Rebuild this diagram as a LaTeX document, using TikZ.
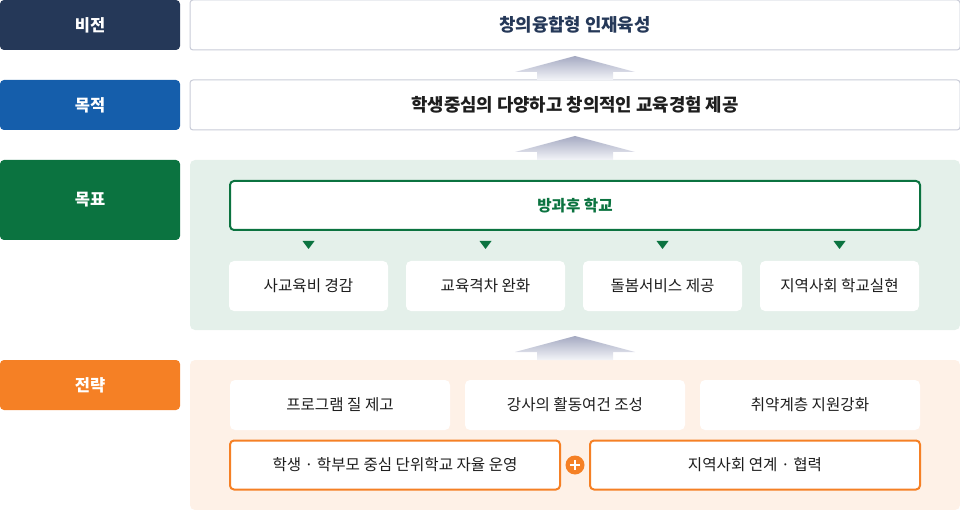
\documentclass[tikz,border=0pt]{standalone}
\usepackage{fontspec}
\setmainfont{Noto Sans CJK KR}
\usetikzlibrary{positioning,calc}
\definecolor{navy}{HTML}{253858}
\definecolor{blu}{HTML}{155EAB}
\definecolor{grn}{HTML}{0B7340}
\definecolor{org}{HTML}{F58025}
\definecolor{gline}{HTML}{C9CCD8}
\definecolor{gbg}{HTML}{E4F0EA}
\definecolor{obg}{HTML}{FEF1E7}
\definecolor{txt}{HTML}{1E1E1E}
\begin{document}
\begin{tikzpicture}
    [x=1pt,y=-1pt,font=\fontsize{15.6}{18}\selectfont,text=txt,
     lbl/.style={rectangle,rounded corners=4pt,minimum width=180pt,minimum height=50pt,inner sep=0pt,outer sep=0pt,text=white,font=\fontsize{16.5}{19}\selectfont\bfseries},
     box/.style={rectangle,rounded corners=3pt,draw=gline,line width=1pt,fill=white,minimum width=770pt,minimum height=50pt,inner sep=0pt,outer sep=0pt,font=\fontsize{17.8}{20}\selectfont\bfseries},
     bg/.style={rectangle,rounded corners=5pt,minimum width=770pt,inner sep=0pt,outer sep=0pt},
     wbox/.style={rectangle,rounded corners=5pt,fill=white,minimum height=50pt,inner sep=0pt,outer sep=0pt},
     obox/.style={rectangle,rounded corners=4pt,draw=org,line width=2pt,fill=white,minimum width=330pt,minimum height=49pt,inner sep=0pt,outer sep=0pt},
     upshade/.style={top color={rgb,255:red,165;green,170;blue,194},bottom color={rgb,255:red,243;green,244;blue,248}}]
    \useasboundingbox (0,0) rectangle (960,510);
    \node[lbl,fill=navy] (vis) at (90,25) {비전};
    \node[box,text=navy] (visbox) [right=10pt of vis] {창의융합형 인재육성};
    \node[box] (objbox) [below=30pt of visbox] {학생중심의 다양하고 창의적인 교육경험 제공};
    \node[lbl,fill=blu] (obj) [left=10pt of objbox] {목적};
    \node[bg,fill=gbg,minimum height=170pt] (goalbg) [below=30pt of objbox] {};
    \node[lbl,fill=grn,minimum height=80pt] (goal) [left=10pt of goalbg.north west,anchor=north east] {목표};
    \node[rectangle,rounded corners=4pt,draw=grn,line width=2pt,fill=white,minimum width=690pt,minimum height=49pt,inner sep=0pt,text=grn,font=\fontsize{15.6}{18}\selectfont\bfseries]
        (school) [below=20pt of goalbg.north] {방과후 학교};
    \node[wbox,minimum width=159pt] (g1) [below=30pt of school.south west,anchor=north west] {사교육비 경감};
    \node[wbox,minimum width=159pt] (g2) [right=18pt of g1] {교육격차 완화};
    \node[wbox,minimum width=159pt] (g3) [right=18pt of g2] {돌봄서비스 제공};
    \node[wbox,minimum width=159pt] (g4) [right=18pt of g3] {지역사회 학교실현};
    \foreach \g in {g1,g2,g3,g4}
        \fill[grn] ($(\g.north)+(-6,-20)$) -- ++(12,0) -- ($(\g.north)+(0,-12)$) -- cycle;
    \node[bg,fill=obg,minimum height=150pt] (strbg) [below=30pt of goalbg] {};
    \node[lbl,fill=org] (str) [left=10pt of strbg.north west,anchor=north east] {전략};
    \node[wbox,minimum width=220pt] (s2) [below=20pt of strbg.north] {강사의 활동여건 조성};
    \node[wbox,minimum width=220pt] (s1) [left=15pt of s2] {프로그램 질 제고};
    \node[wbox,minimum width=220pt] (s3) [right=15pt of s2] {취약계층 지원강화};
    \node[obox] (t1) [below=10.5pt of s1.south west,anchor=north west] {학생 · 학부모 중심 단위학교 자율 운영};
    \node[obox] (t2) [right=30pt of t1] {지역사회 연계 · 협력};
    \node[circle,fill=org,minimum size=19pt,inner sep=0pt] (plus) at ($(t1.east)!0.5!(t2.west)$) {};
    \draw[white,line width=2.2pt] ($(plus.center)+(-5,0)$) -- ($(plus.center)+(5,0)$)
        ($(plus.center)+(0,-5)$) -- ($(plus.center)+(0,5)$);
    \foreach \a/\b in {objbox/visbox,goalbg/objbox,strbg/goalbg}
        \shade[upshade] ($(\a.north)+(-38,0)$) -- ++(0,-8) -- ++(-22,0) -- ($(\b.south)+(0,6)$)
            -- ($(\a.north)+(60,-8)$) -- ++(-22,0) -- ++(0,8) -- cycle;
\end{tikzpicture}
\end{document}
